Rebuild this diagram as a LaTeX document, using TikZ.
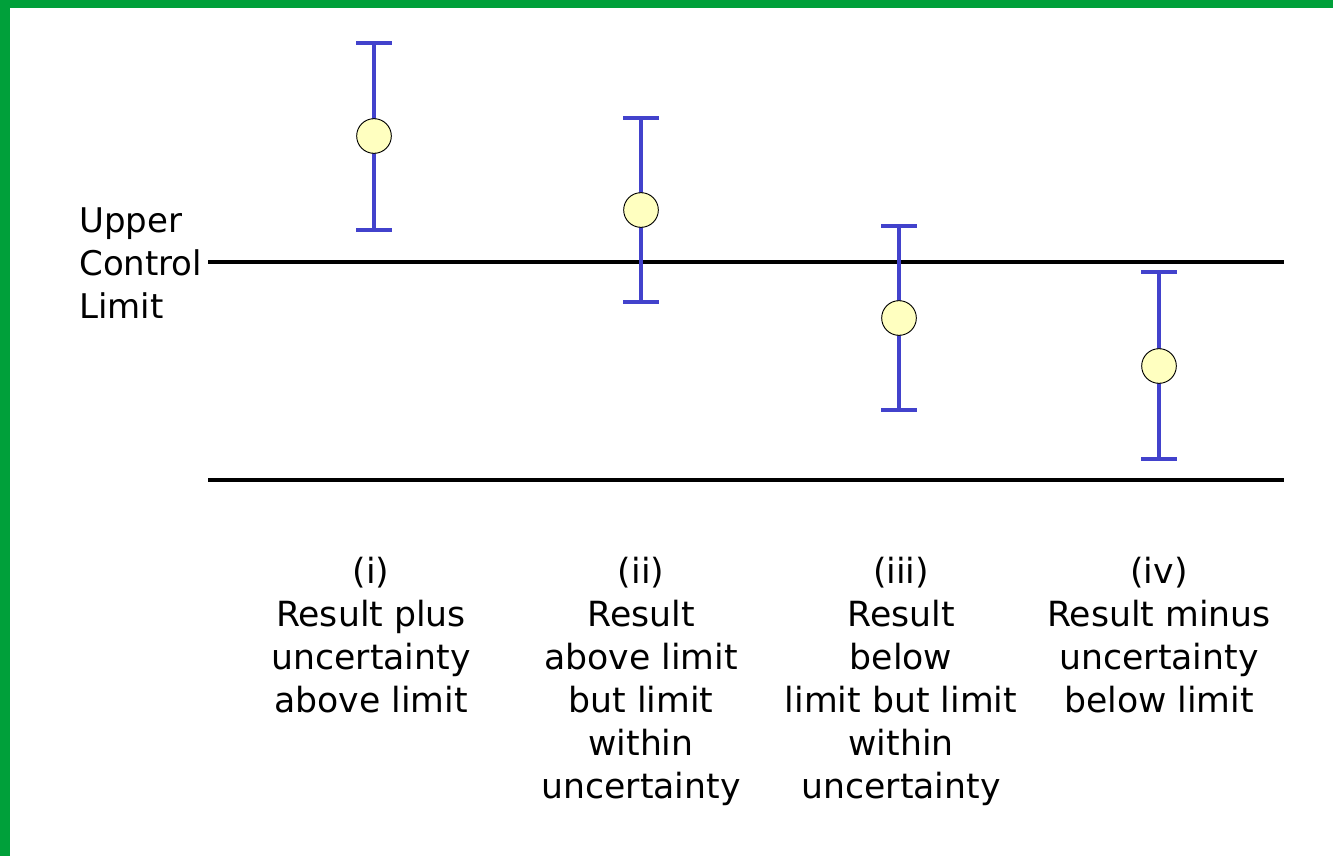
\documentclass[tikz,border=0pt]{standalone}
\usepackage{fontspec}
\setmainfont{DejaVu Sans}
\definecolor{framegreen}{RGB}{0,160,58}
\definecolor{barblue}{RGB}{66,66,204}
\definecolor{dotfill}{RGB}{255,255,192}
\begin{document}
\begin{tikzpicture}[x=0.75pt,y=-0.75pt,
  errbar/.style={draw=barblue,line width=2.4pt},
  dot/.style={circle,draw=black,line width=0.7pt,fill=dotfill,minimum size=26pt,inner sep=0pt},
  limitline/.style={draw=black,line width=2.4pt},
  lbl/.style={font=\fontsize{26}{32.25}\selectfont,align=center,anchor=base,inner sep=0pt},
  ucl/.style={font=\fontsize{25.5}{32.25}\selectfont,align=left,anchor=base west,inner sep=0pt}]
\useasboundingbox (0,0) rectangle (1333,856);
\fill[white] (0,0) rectangle (1333,856);
\fill[framegreen] (0,0) rectangle (1333,8);
\fill[framegreen] (0,0) rectangle (10,856);
% limit lines
\coordinate (uclA) at (208,262);
\coordinate (uclB) at (1284,262);
\coordinate (lowA) at (208,480);
\coordinate (lowB) at (1284,480);
\draw[limitline] (uclA) -- (uclB);
\draw[limitline] (lowA) -- (lowB);
\node[ucl] (ucltext) at (79,318) {Upper\\Control\\Limit};
% error bars
\foreach \n/\x/\t/\c/\b in {a/374/43/136/230, b/641/118/210/302, c/899/226/318/410, d/1159/272/366/459}{
  \coordinate (\n top) at (\x,\t);
  \coordinate (\n bot) at (\x,\b);
  \draw[errbar] (\n top) -- (\n bot);
  \draw[errbar] ([xshift=-13.5pt]\n top) -- ([xshift=13.5pt]\n top);
  \draw[errbar] ([xshift=-13.5pt]\n bot) -- ([xshift=13.5pt]\n bot);
  \node[dot] (\n dot) at (\x,\c) {};
}
% labels (anchor = baseline of last line)
\node[lbl] (la) at (371,712) {(i)\\Result plus\\uncertainty\\above limit};
\node[lbl] (lb) at (641,798) {(ii)\\Result\\above limit\\but limit\\within\\uncertainty};
\node[lbl] (lc) at (901,798) {(iii)\\Result\\below\\limit but limit\\within\\uncertainty};
\node[lbl] (ld) at (1159,712) {(iv)\\Result minus\\uncertainty\\below limit};
\end{tikzpicture}
\end{document}
